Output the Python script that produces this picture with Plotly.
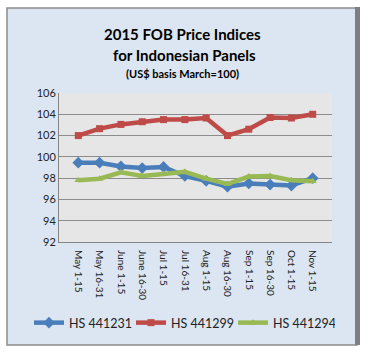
import plotly.graph_objects as go

categories = ["May 1-15", "May 16-31", "June 1-15", "June 16-30", "Jul 1-15", "Jul 16-31",
              "Aug 1-15", "Aug 16-30", "Sep 1-15", "Sep 16-30", "Oct 1-15", "Nov 1-15"]
hs441231 = [99.45, 99.45, 99.1, 98.95, 99.05, 98.2, 97.75, 97.2, 97.5, 97.4, 97.3, 98.0]
hs441299 = [102.0, 102.65, 103.05, 103.3, 103.5, 103.5, 103.65, 102.0, 102.6, 103.7, 103.65, 104.0]
hs441294 = [97.8, 97.95, 98.55, 98.2, 98.4, 98.6, 97.95, 97.45, 98.15, 98.2, 97.8, 97.7]
y_ticks = [92, 94, 96, 98, 100, 102, 104, 106]

W, H = 372, 357
L, R, T, B = 59, 332, 93, 242  # plot area pixel box
pw, ph = R - L, B - T

def px(x):
    return (x - L) / pw

def py(y):
    return (B - y) / ph

fig = go.Figure()
series = [
    ("HS 441231", hs441231, "#4a7ebb", "diamond", 9),
    ("HS 441299", hs441299, "#be4b48", "square", 7),
    ("HS 441294", hs441294, "#98b954", "triangle-up", 7),
]
for name, vals, col, sym, sz in series:
    fig.add_trace(go.Scatter(
        x=categories, y=vals, name=name, mode="lines+markers",
        line=dict(color=col, width=4.5),
        marker=dict(symbol=sym, size=sz, color=col),
    ))

shapes = [
    dict(type="rect", xref="paper", yref="paper", layer="below",
         x0=px(7), x1=px(357), y0=py(345), y1=py(8),
         fillcolor="#dce6f2", line=dict(color="#8c8c8c", width=1.5)),
    dict(type="rect", xref="paper", yref="paper", layer="below",
         x0=px(355), x1=px(360), y0=py(345), y1=py(7),
         fillcolor="#7f7f7f", line=dict(width=0)),
    dict(type="rect", xref="paper", yref="paper", layer="below",
         x0=0, x1=1, y0=0, y1=1,
         fillcolor="#e6e6e6", line=dict(width=0)),
]

font = "Lato, 'Open Sans', sans-serif"
annotations = [
    dict(text="<b>2015 FOB Price Indices</b>", x=px(182), y=py(34), xref="paper", yref="paper",
         showarrow=False, font=dict(size=15, color="#000000", family=font), xanchor="center", yanchor="middle"),
    dict(text="<b>for Indonesian Panels</b>", x=px(184), y=py(55), xref="paper", yref="paper",
         showarrow=False, font=dict(size=15, color="#000000", family=font), xanchor="center", yanchor="middle"),
    dict(text="<b>(US$ basis March=100)</b>", x=px(182), y=py(73), xref="paper", yref="paper",
         showarrow=False, font=dict(size=11, color="#000000", family=font), xanchor="center", yanchor="middle"),
]

fig.update_layout(
    width=W, height=H,
    margin=dict(l=L, r=W - R, t=T, b=H - B),
    paper_bgcolor="white",
    plot_bgcolor="rgba(0,0,0,0)",
    shapes=shapes,
    annotations=annotations,
    showlegend=True,
    legend=dict(orientation="h", x=px(29), y=py(323), xanchor="left", yanchor="middle",
                font=dict(size=12.5, family=font, color="#222222"), bgcolor="rgba(0,0,0,0)",
                itemwidth=30, tracegroupgap=0, entrywidth=57, entrywidthmode="pixels"),
    font=dict(family=font),
)
fig.update_xaxes(type="category", tickangle=90, showgrid=False, showline=True,
                 linecolor="#868686", linewidth=1, ticklabelstandoff=5,
                 tickfont=dict(size=10, family=font, color="#222222"), ticks="")
fig.update_yaxes(range=[92, 106], tickvals=y_ticks, showgrid=True, gridcolor="#8c8c8c",
                 gridwidth=1, showline=True, linecolor="#868686", linewidth=1, zeroline=False,
                 tickfont=dict(size=11, family=font, color="#222222"), ticks="")

fig.write_html("out.html", config={"displayModeBar": False},
               post_script="document.body.style.margin='0';document.body.style.padding='0';")
